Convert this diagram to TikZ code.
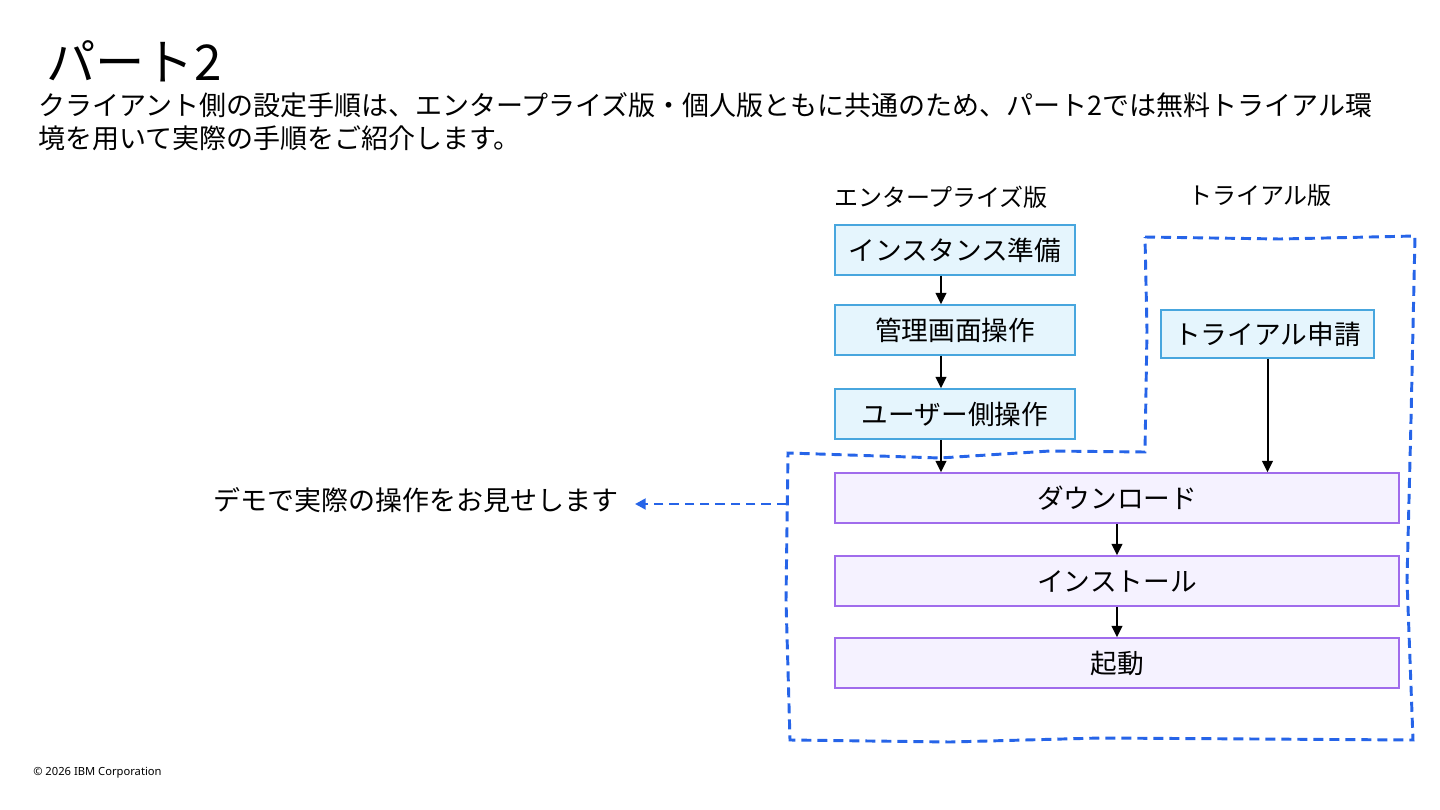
\documentclass[tikz,border=0pt]{standalone}
\usepackage{fontspec}
\setmainfont{Noto Sans CJK JP}
\newfontfamily\footfont{Noto Sans}
\usepackage{tikz}
\usetikzlibrary{arrows.meta,positioning}
\definecolor{entline}{RGB}{72,166,222}
\definecolor{entfill}{RGB}{229,245,253}
\definecolor{dlline}{RGB}{160,108,236}
\definecolor{dlfill}{RGB}{245,242,255}
\definecolor{demoblue}{RGB}{38,100,232}

\begin{document}
\begin{tikzpicture}[x=0.75pt,y=-0.75pt,
  ent/.style={draw=entline,fill=entfill,line width=1.2pt,minimum width=180pt,minimum height=37.5pt,inner sep=0pt,font=\fontsize{20}{24}\selectfont},
  dl/.style={draw=dlline,fill=dlfill,line width=1.2pt,minimum width=423pt,minimum height=37.5pt,inner sep=0pt,font=\fontsize{20}{24}\selectfont},
  arr/.style={-{Triangle[length=8.5pt,width=8pt]},line width=1.5pt,black},
  outline/.style={demoblue,line width=2.2pt,dash pattern=on 7.5pt off 4.5pt},
  lbl/.style={font=\fontsize{18}{22}\selectfont,inner sep=0pt}]
\useasboundingbox[fill=white] (0,0) rectangle (1440,810);

% heading
\node[anchor=base west,inner sep=0pt,font=\fontsize{37}{44}\selectfont] (title) at (46,80) {パート2};
\node[anchor=north west,align=left,inner sep=0pt,font=\fontsize{20.25}{24.75}\selectfont] (lead) at (38,92)
 {クライアント側の設定手順は、エンタープライズ版・個人版ともに共通のため、パート2では無料トライアル環\\境を用いて実際の手順をご紹介します。};

% column labels
\node[lbl] (entlbl) at (941,197) {エンタープライズ版};
\node[lbl] (triallbl) at (1260,195) {トライアル版};

% enterprise steps
\node[ent] (inst) at (955,250) {インスタンス準備};
\node[ent] (mgmt) at (955,330) {管理画面操作};
\node[ent] (user) at (955,414) {ユーザー側操作};
\node[ent,minimum width=160pt,minimum height=36pt] (trial) at (1267.5,334) {トライアル申請};

% common steps
\node[dl] (down) at (1117,498) {ダウンロード};
\node[dl] (setup) at (1117,581) {インストール};
\node[dl] (boot) at (1117,663) {起動};

\draw[arr] ([xshift=-10.5pt]inst.south) -- ([xshift=-10.5pt]mgmt.north);
\draw[arr] ([xshift=-10.5pt]mgmt.south) -- ([xshift=-10.5pt]user.north);
\draw[arr] ([xshift=-10.5pt]user.south) -- ([xshift=-10.5pt]user.south |- down.north);
\draw[arr] (trial.south) -- (trial.south |- down.north);
\draw[arr] (down) -- (setup);
\draw[arr] (setup) -- (boot);

% demo region
\draw[outline] (1145,237) -- (1280,239) -- (1415,236) -- (1411,420) -- (1407,580) -- (1413,740)
  -- (1100,738) -- (950,742) -- (790,740) -- (786,600) -- (788,453) -- (940,458) -- (1050,451)
  -- (1145,452) -- (1147,330) -- cycle;
\coordinate (demoedge) at (786,504);
\node[anchor=east,inner sep=0pt,font=\fontsize{20.25}{24}\selectfont] (demo) at (619,500) {デモで実際の操作をお見せします};
\draw[demoblue,line width=2pt,dash pattern=on 7pt off 4.5pt,-{Triangle[length=8pt,width=8pt]},shorten >=12pt] (demoedge) -- (demoedge -| demo.east);

\node[anchor=base west,inner sep=0pt,font=\footfont\fontsize{8.4}{10}\selectfont] (copy) at (33,775) {© 2026 IBM Corporation};
\end{tikzpicture}
\end{document}
